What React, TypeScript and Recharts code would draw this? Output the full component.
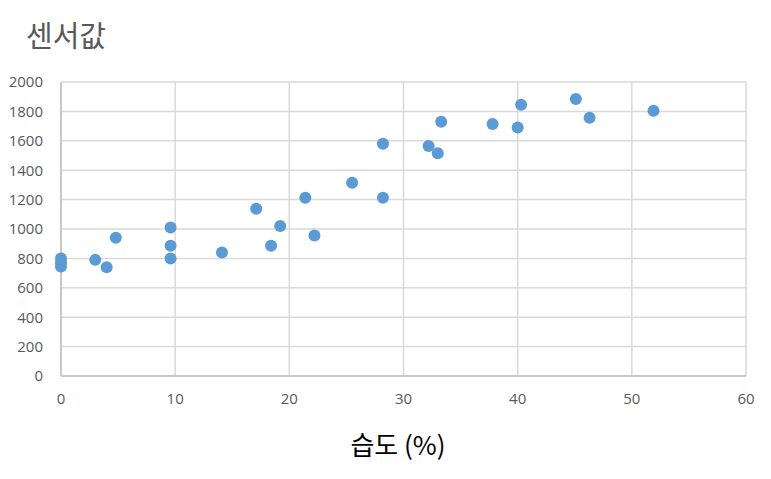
import React from "react";
import { ScatterChart, Scatter, XAxis, YAxis, CartesianGrid } from "recharts";

const humidity = [0, 0, 0, 3, 4, 4.8, 9.6, 9.6, 9.6, 14.1, 17.1, 18.4, 19.2, 22.2, 21.4, 25.5, 28.2, 28.2, 32.2, 33.0, 33.3, 37.8, 40.0, 40.3, 45.1, 46.3, 51.9];
const sensor = [800, 770, 745, 790, 740, 940, 1010, 886, 800, 840, 1138, 886, 1020, 955, 1212, 1315, 1212, 1580, 1565, 1515, 1730, 1715, 1690, 1845, 1885, 1757, 1805];
const xTicks = [0, 10, 20, 30, 40, 50, 60];
const yTicks = [0, 200, 400, 600, 800, 1000, 1200, 1400, 1600, 1800, 2000];

const data = humidity.map((h, i) => ({ x: h, y: sensor[i] }));

const Dot = (props: any) => {
  const { cx, cy } = props;
  if (cx == null || cy == null) return null;
  return <circle cx={cx} cy={cy} r={6} fill="#5b9bd5" />;
};

export default function App() {
  const tickStyle = { fill: "#595959", fontSize: 15, fontFamily: "'Open Sans', 'Noto Sans', sans-serif" };
  return (
    <div style={{ position: "absolute", left: 0, top: 0, width: 771, height: 479, background: "#fff" }}>
      <div
        style={{
          position: "absolute",
          left: 26,
          top: 14,
          fontSize: 29,
          color: "#595959",
          fontFamily: "'Noto Sans CJK KR', sans-serif",
          lineHeight: "40px",
          whiteSpace: "nowrap",
        }}
      >
        센서값
      </div>
      <ScatterChart width={771} height={479} margin={{ top: 82, right: 25, bottom: 0, left: 0 }}>
        <CartesianGrid stroke="#d9d9d9" strokeWidth={1.5} />
        <XAxis
          type="number"
          dataKey="x"
          domain={[0, 60]}
          ticks={xTicks}
          height={103}
          tickLine={false}
          tickSize={0}
          tickMargin={17}
          axisLine={{ stroke: "#bfbfbf", strokeWidth: 1.5 }}
          tick={tickStyle}
          interval={0}
        />
        <YAxis
          type="number"
          dataKey="y"
          domain={[0, 2000]}
          ticks={yTicks}
          width={61}
          tickLine={false}
          tickSize={0}
          tickMargin={18}
          axisLine={{ stroke: "#bfbfbf", strokeWidth: 1.5 }}
          tick={tickStyle}
          interval={0}
        />
        <Scatter data={data} shape={Dot} isAnimationActive={false} />
      </ScatterChart>
      <div
        style={{
          position: "absolute",
          left: 0,
          width: 796,
          top: 424,
          textAlign: "center",
          fontSize: 26,
          color: "#000",
          fontFamily: "'Noto Sans CJK KR', sans-serif",
          lineHeight: "40px",
          whiteSpace: "nowrap",
        }}
      >
        습도 (%)
      </div>
    </div>
  );
}
